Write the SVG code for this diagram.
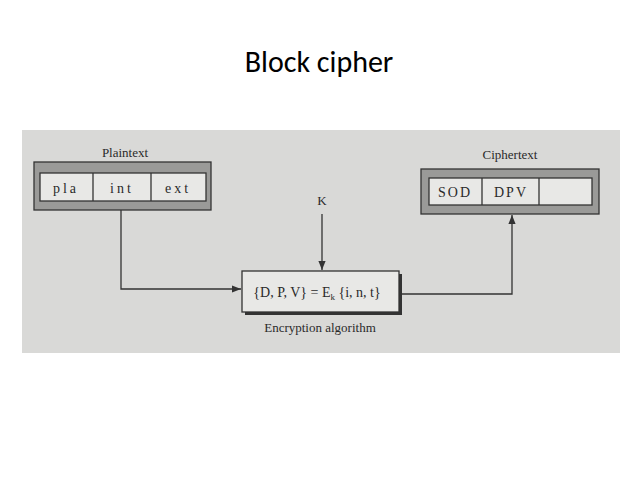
<svg xmlns="http://www.w3.org/2000/svg" width="638" height="479" viewBox="0 0 638 479">
<defs>
<style>
.t{font-family:"Liberation Serif",serif;fill:#2a2a2a}
.b{fill:#e8e8e6;stroke:#333;stroke-width:1.3}
.o{fill:#9a9a98;stroke:#333;stroke-width:1.3}
.c{fill:none;stroke:#333;stroke-width:1.3}
</style>
<marker id="a" viewBox="0 0 10 10" refX="10" refY="5" markerWidth="7" markerHeight="7" orient="auto"><path d="M0,1 L10,5 L0,9 z" fill="#333"/></marker>
</defs>
<rect width="638" height="479" fill="#fff"/>
<text x="319" y="72" text-anchor="middle" font-family="Carlito,'Liberation Sans',sans-serif" font-size="30" fill="#000">Block cipher</text>
<rect x="22" y="130" width="598" height="223" fill="#d9d9d7"/>
<g id="plaintext">
<text class="t" x="125" y="157" text-anchor="middle" font-size="13">Plaintext</text>
<rect class="o" x="34" y="162" width="177" height="48"/>
<rect class="b" x="40" y="173" width="166" height="28"/>
<line class="c" x1="93" y1="173" x2="93" y2="201"/>
<line class="c" x1="151" y1="173" x2="151" y2="201"/>
<text class="t" x="66" y="193" text-anchor="middle" font-size="14" letter-spacing="3">pla</text>
<text class="t" x="122" y="193" text-anchor="middle" font-size="14" letter-spacing="3">int</text>
<text class="t" x="178" y="193" text-anchor="middle" font-size="14" letter-spacing="3">ext</text>
</g>
<g id="ciphertext">
<text class="t" x="510" y="159" text-anchor="middle" font-size="13">Ciphertext</text>
<rect class="o" x="421" y="169" width="178" height="45"/>
<rect class="b" x="429" y="178" width="163" height="27"/>
<line class="c" x1="482" y1="178" x2="482" y2="205"/>
<line class="c" x1="539" y1="178" x2="539" y2="205"/>
<text class="t" x="455" y="197" text-anchor="middle" font-size="14" letter-spacing="2">SOD</text>
<text class="t" x="511" y="197" text-anchor="middle" font-size="14" letter-spacing="2">DPV</text>
</g>
<g id="key"><text class="t" x="322" y="205" text-anchor="middle" font-size="13">K</text></g>
<g id="encryption">
<rect x="245" y="274" width="157" height="41" fill="#333"/>
<rect class="b" x="242" y="271" width="157" height="41"/>
<text class="t" x="317" y="297" text-anchor="middle" font-size="14">{D, P, V} = E<tspan font-size="9" dy="3">k</tspan><tspan dy="-3"> {i, n, t}</tspan></text>
<text class="t" x="320" y="332" text-anchor="middle" font-size="13">Encryption algorithm</text>
</g>
<g id="connectors">
<polyline class="c" points="121,210 121,289 241,289" marker-end="url(#a)"/>
<line class="c" x1="322" y1="214" x2="322" y2="270" marker-end="url(#a)"/>
<polyline class="c" points="399,294 512,294 512,215" marker-end="url(#a)"/>
</g>
</svg>
